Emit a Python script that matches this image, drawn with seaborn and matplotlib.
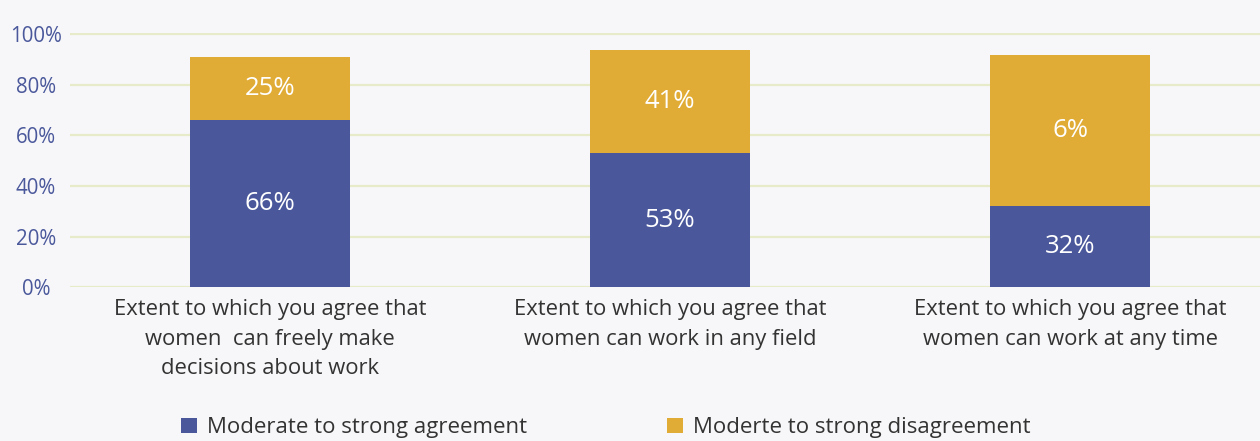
import matplotlib
matplotlib.use("Agg")
import matplotlib.pyplot as plt
from matplotlib.patches import Patch
import seaborn as sns
import pandas as pd

categories = [
    "Extent to which you agree that\nwomen  can freely make\ndecisions about work",
    "Extent to which you agree that\nwomen can work in any field",
    "Extent to which you agree that\nwomen can work at any time",
]
agreement = [66, 53, 32]
disagreement = [25, 41, 60]
agreement_labels = ["66%", "53%", "32%"]
disagreement_labels = ["25%", "41%", "6%"]
series_names = ["Moderate to strong agreement", "Moderte to strong disagreement"]
y_ticks = [0, 20, 40, 60, 80, 100]

BLUE = "#4a589b"
GOLD = "#e0ac36"
BG = "#f7f7f9"
GRID = "#e7ebc9"

sns.set_theme(style="white")
plt.rcParams["font.family"] = ["Open Sans", "DejaVu Sans"]

df = pd.DataFrame({
    "category": categories,
    "agree": agreement,
    "disagree": disagreement,
})
df["total"] = df["agree"] + df["disagree"]

fig = plt.figure(figsize=(12.6, 4.41), dpi=100, facecolor=BG)
ax = fig.add_axes([0.0556, 0.349, 0.9444, 0.576])
ax.set_facecolor(BG)

# stacked bars: full height in gold, agreement share drawn over it in blue
sns.barplot(data=df, x="category", y="total", color=GOLD, width=0.4,
            saturation=1, linewidth=0, ax=ax, zorder=3)
sns.barplot(data=df, x="category", y="agree", color=BLUE, width=0.4,
            saturation=1, linewidth=0, ax=ax, zorder=3)

for i, (a, d) in enumerate(zip(agreement, disagreement)):
    ax.text(i, a / 2, agreement_labels[i], ha="center", va="center",
            color="white", fontsize=18.5, zorder=4)
    ax.text(i, a + d / 2, disagreement_labels[i], ha="center", va="center",
            color="white", fontsize=18.5, zorder=4)

ax.set_xlim(-0.5, 2.475)
ax.set_ylim(0, 100.5)
ax.set_yticks(y_ticks)
ax.set_yticklabels([f"{t}%" for t in y_ticks])
ax.yaxis.grid(True, color=GRID, linewidth=1.6, zorder=0)
ax.set_axisbelow(True)
for s in ax.spines.values():
    s.set_visible(False)
ax.tick_params(axis="y", length=0, pad=24.5, labelcolor="#4a589b", labelsize=14.8)
ax.tick_params(axis="x", length=0, pad=8.5, labelcolor="#333333", labelsize=15.8)
ax.set_xlabel("")
ax.set_ylabel("")
for lbl in ax.get_yticklabels():
    lbl.set_horizontalalignment("center")
for lbl in ax.get_xticklabels():
    lbl.set_linespacing(1.55)

handles = [Patch(facecolor=BLUE, edgecolor="none"),
           Patch(facecolor=GOLD, edgecolor="none")]
fig.legend(handles, series_names, loc="center", bbox_to_anchor=(0.481, 0.03),
           ncol=2, frameon=False, fontsize=16, handlelength=0.72,
           handleheight=0.72, handletextpad=0.45, columnspacing=6.3,
           labelcolor="#333333")

fig.savefig("out.png", dpi=100, facecolor=BG)
